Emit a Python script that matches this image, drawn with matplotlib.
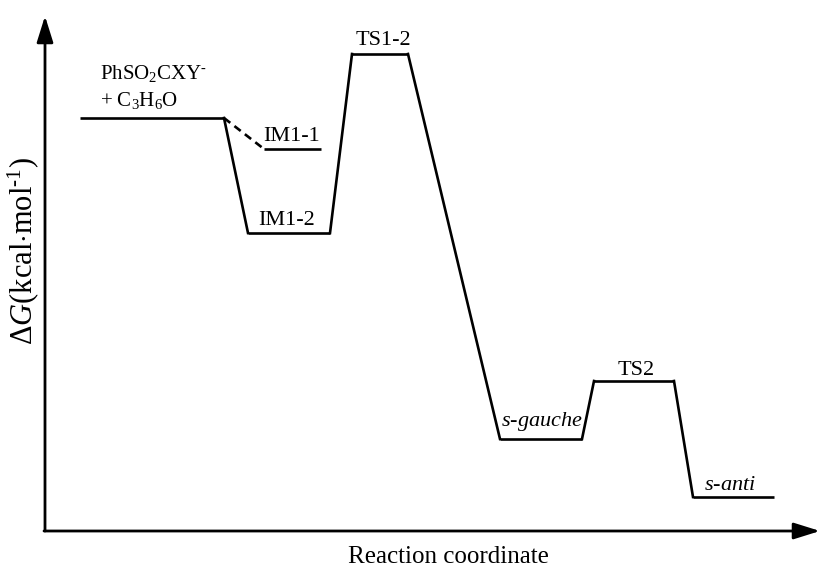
#!/usr/bin/env python3

#---------------------------------------------------------------------
# Free energy profile: PhSO2CXY- + C3H6O
#---------------------------------------------------------------------

import matplotlib
matplotlib.use('Agg')
import matplotlib.pyplot as plt

plt.rcParams['font.family'] = ['Liberation Serif', 'DejaVu Serif']
plt.rcParams['mathtext.fontset'] = 'custom'
plt.rcParams['mathtext.rm'] = 'Liberation Serif'
plt.rcParams['mathtext.it'] = 'Liberation Serif:italic'

# relative free energies (arbitrary units, reactants = 0)
species = ['R', 'IM1-1', 'IM1-2', 'TS1-2', 's-gauche', 'TS2', 's-anti']
energies = [0.0, -3.1, -11.5, 6.4, -32.1, -26.3, -37.9]
labels = [r'PhSO$_2$CXY$^{\text{-}}$' + '\n' + r'+ C$_3$H$_6$O', 'IM1-1', 'IM1-2', 'TS1-2',
          r'$\mathit{s}$-$\mathit{gauche}$', 'TS2', r'$\mathit{s}$-$\mathit{anti}$']
main_path = ['R', 'IM1-2', 'TS1-2', 's-gauche', 'TS2', 's-anti']
side_path = ['R', 'IM1-1']

# layout of the levels along the reaction coordinate
x_start = [80, 264, 248, 352, 500, 594, 693]
x_end = [224, 321, 330, 408, 582, 674, 774]
lab_xy = [(100, 87), (292, 136), (287, 220), (383, 40), (542, 421), (636, 370), (730, 486)]

def e(py):
    # pixel row -> energy
    return (118 - py) / 10.0

fig = plt.figure(figsize=(8.2, 5.72), dpi=100, facecolor='white')
ax = fig.add_axes([0, 0, 1, 1])
ax.set_xlim(0, 820)
ax.set_ylim(e(572), e(0))
ax.axis('off')

idx = {s: i for i, s in enumerate(species)}

# horizontal levels
for i in range(len(species)):
    ax.plot([x_start[i], x_end[i]], [energies[i], energies[i]], color='k', lw=1.9,
            solid_capstyle='butt')

# connectors
for a, b in zip(main_path[:-1], main_path[1:]):
    i, j = idx[a], idx[b]
    ax.plot([x_end[i], x_start[j]], [energies[i], energies[j]], color='k', lw=1.9)
i, j = idx[side_path[0]], idx[side_path[1]]
ax.plot([x_end[i], x_start[j]], [energies[i], energies[j]], color='k', lw=1.9,
        ls=(0, (3, 2)))

# labels
for k in range(len(species)):
    x, py = lab_xy[k]
    if k == 0:
        ax.text(x, e(py), labels[k], fontsize=15, ha='left', va='center', linespacing=1.4)
    else:
        ax.text(x, e(py), labels[k], fontsize=16, ha='center', va='center')

# axes arrows
arr = dict(arrowstyle='-|>,head_length=0.8,head_width=0.25', mutation_scale=20,
           lw=2, color='k', shrinkA=0, shrinkB=0)
ax.annotate('', xy=(45, e(16)), xytext=(45, e(531)), arrowprops=arr)
ax.annotate('', xy=(820, e(531)), xytext=(44, e(531)), arrowprops=arr)

ax.text(448, e(557), 'Reaction coordinate', fontsize=18, ha='center', va='center')
ax.text(23, e(251), r'$\Delta\mathit{G}$(kcal$\cdot$mol$^{\text{-}1}$)', fontsize=22,
        rotation=90, ha='center', va='center')

plt.savefig('out.png', dpi=100)
